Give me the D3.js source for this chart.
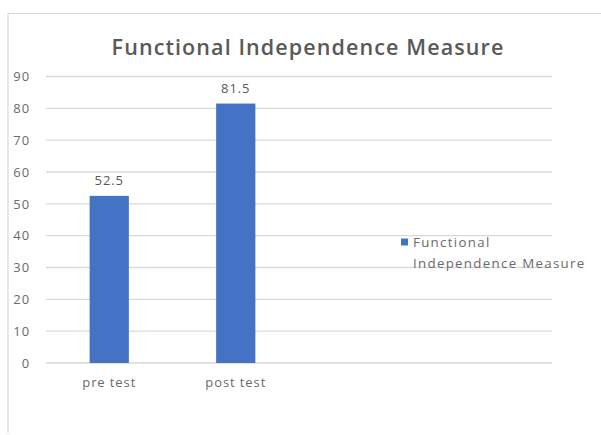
<!DOCTYPE html>
<html><head><meta charset="utf-8">
<script src="https://cdn.jsdelivr.net/npm/d3@7"></script>
<style>body{margin:0;background:#fff}svg{display:block}text{font-family:"Open Sans","Noto Sans",sans-serif}</style>
</head><body>
<script>
const categories = ["pre test", "post test", "", " "];
const values = [52.5, 81.5, null, null];
const yTicks = [0, 10, 20, 30, 40, 50, 60, 70, 80, 90];
const title = "Functional Independence Measure";
const seriesName = ["Functional", "Independence Measure"];

const W = 601, H = 435;
const svg = d3.select("body").append("svg").attr("width", W).attr("height", H);
svg.append("rect").attr("width", W).attr("height", H).attr("fill", "#fff");
svg.append("path").attr("d", `M8,433V13.5H601`).attr("fill", "none").attr("stroke", "#d9d9d9").attr("stroke-width", 1.2);

const x0 = 46, x1 = 552, yTop = 76.5, yBot = 363;
const x = d3.scaleBand().domain(categories).range([x0, x1]).paddingInner(0.69).paddingOuter(0.345);
const y = d3.scaleLinear().domain([0, 90]).range([yBot, yTop]);

const grid = svg.append("g");
grid.selectAll("line").data(yTicks).join("line")
  .attr("x1", x0).attr("x2", x1).attr("y1", d => y(d)).attr("y2", d => y(d))
  .attr("stroke", "#d9d9d9").attr("stroke-width", 1.3);

const small = 13, ls = 0.9;
const yAxis = d3.axisLeft(y).tickValues(yTicks).tickSize(0).tickPadding(0);
const ga = svg.append("g").attr("transform", "translate(30,0)").call(yAxis);
ga.select(".domain").remove();
ga.selectAll("text").attr("fill", "#6a6a6a").attr("font-size", small).attr("letter-spacing", ls);

const bars = categories.map((c, i) => ({c, v: values[i]})).filter(d => d.v != null);
svg.selectAll("rect.bar").data(bars).join("rect").attr("class", "bar")
  .attr("x", d => x(d.c)).attr("width", x.bandwidth())
  .attr("y", d => y(d.v)).attr("height", d => y(0) - y(d.v))
  .attr("fill", "#4472c4");

svg.selectAll("text.lab").data(bars).join("text").attr("class", "lab")
  .attr("x", d => x(d.c) + x.bandwidth() / 2).attr("y", d => y(d.v) - 11)
  .attr("text-anchor", "middle").attr("fill", "#595959").attr("font-size", small).attr("letter-spacing", ls)
  .text(d => d.v);

const xAxis = d3.axisBottom(x).tickSize(0).tickPadding(0);
const gx = svg.append("g").attr("transform", `translate(0,${yBot + 15})`).call(xAxis);
gx.select(".domain").remove();
gx.selectAll("text").attr("fill", "#6a6a6a").attr("font-size", small).attr("letter-spacing", ls);

svg.append("text").attr("x", 308).attr("y", 55).attr("text-anchor", "middle")
  .attr("fill", "#595959").attr("font-size", 21.5).attr("font-weight", 600).attr("letter-spacing", 1.1)
  .text(title);

const lg = svg.append("g");
lg.append("rect").attr("x", 401).attr("y", 238.5).attr("width", 7).attr("height", 7).attr("fill", "#4472c4");
lg.selectAll("text").data(seriesName).join("text")
  .attr("x", 413).attr("y", (d, i) => 247 + i * 20.5)
  .attr("fill", "#6a6a6a").attr("font-size", 13.3).attr("letter-spacing", 1.3).text(d => d);
</script>
</body></html>
